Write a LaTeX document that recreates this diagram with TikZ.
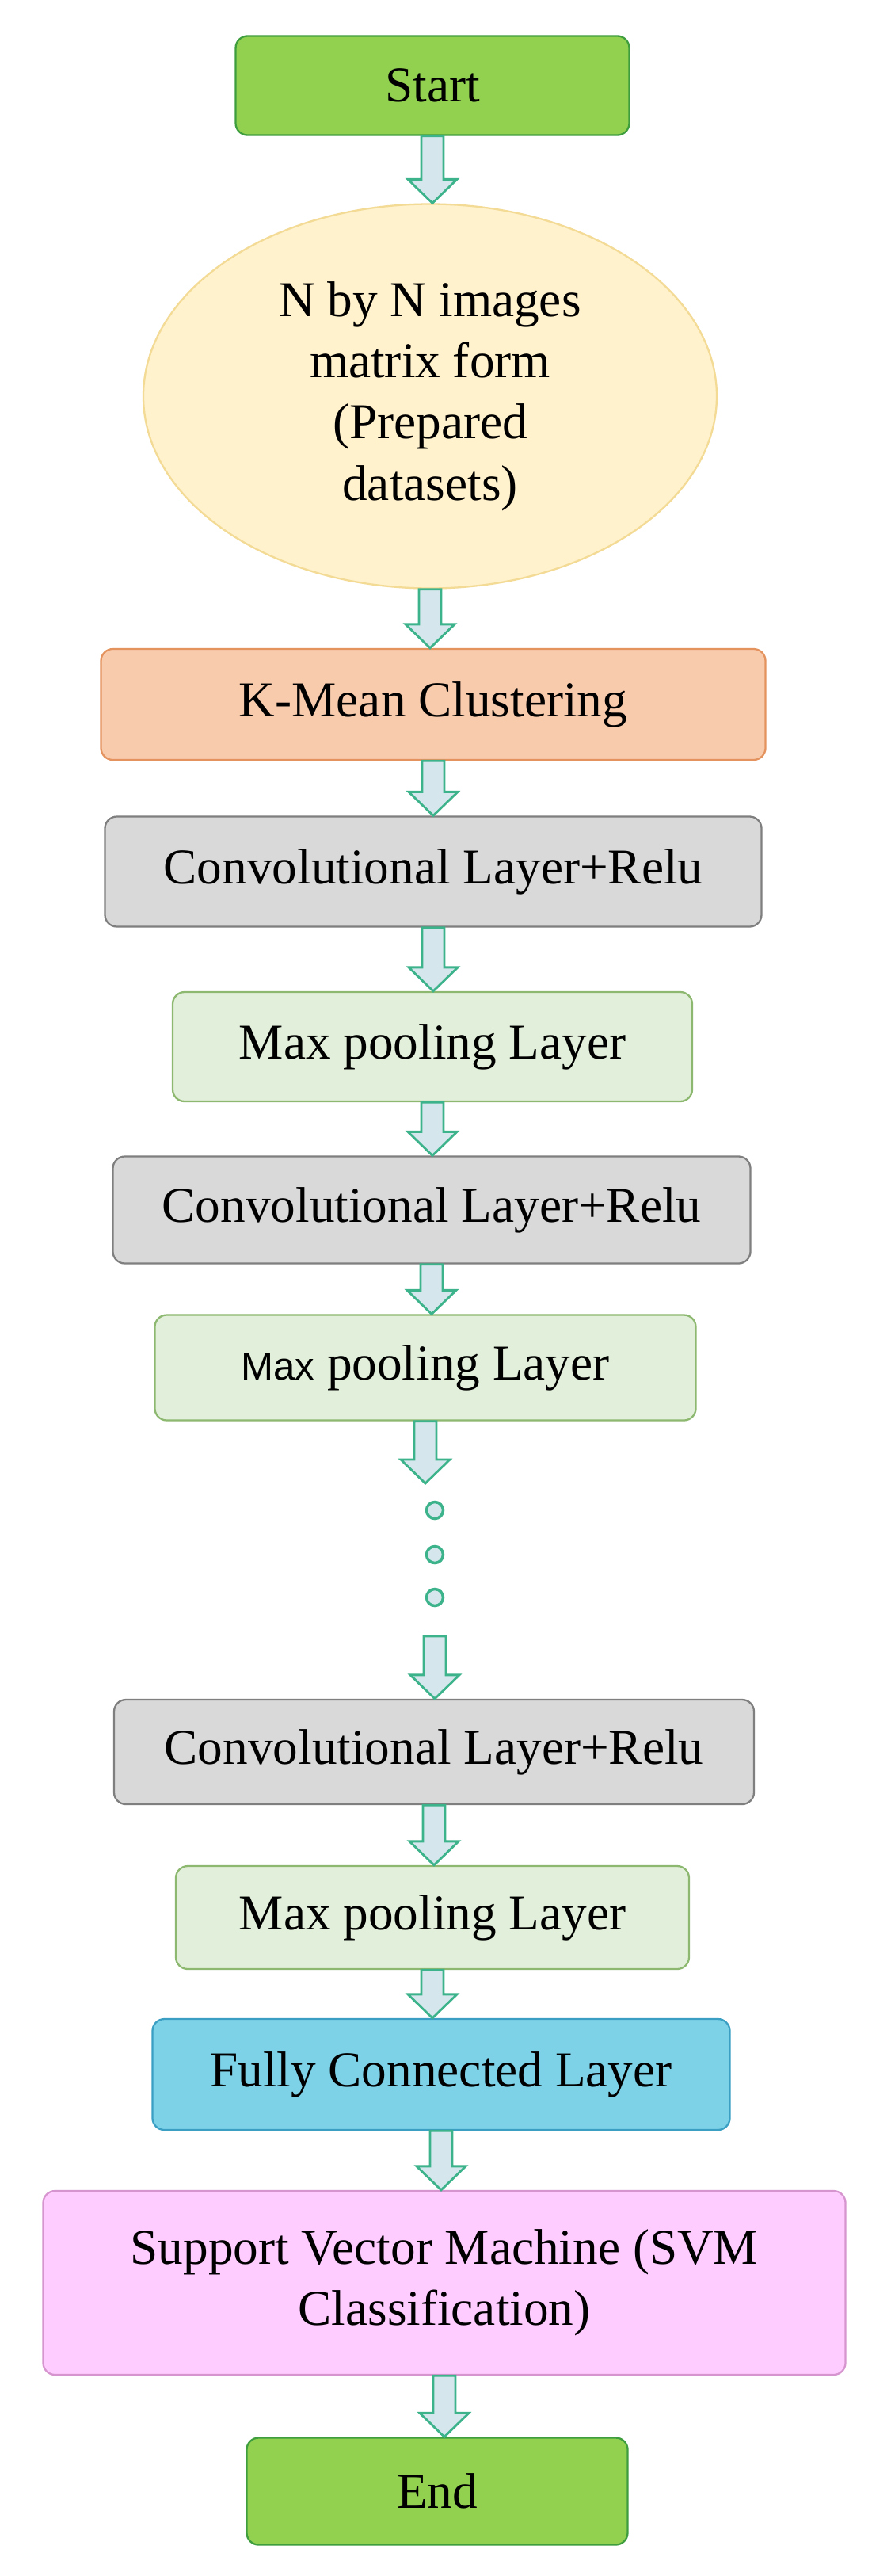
\documentclass[tikz,border=0pt]{standalone}
\usepackage{fontspec}
\setmainfont{Liberation Serif}
\setsansfont{Liberation Sans}
\usetikzlibrary{shapes.geometric,calc}
\definecolor{startF}{HTML}{92D050}\definecolor{startD}{HTML}{3E9E3E}
\definecolor{ellF}{HTML}{FFF2CC}\definecolor{ellD}{HTML}{F3DA95}
\definecolor{kmF}{HTML}{F8CBAD}\definecolor{kmD}{HTML}{E4935E}
\definecolor{convF}{HTML}{D9D9D9}\definecolor{convD}{HTML}{7F7F7F}
\definecolor{maxF}{HTML}{E2EFDA}\definecolor{maxD}{HTML}{8DB870}
\definecolor{fcF}{HTML}{7DD2E8}\definecolor{fcD}{HTML}{3A9FC2}
\definecolor{svmF}{HTML}{FFCCFF}\definecolor{svmD}{HTML}{D795CF}
\definecolor{arrF}{HTML}{D5E6EC}\definecolor{arrD}{HTML}{3DB38C}
\tikzset{
 box/.style={rectangle,rounded corners=0.3cm,line width=1.3pt,inner sep=0pt,align=center,
   font=\fontsize{36}{44}\selectfont},
 startend/.style={box,fill=startF,draw=startD},
 kmean/.style={box,fill=kmF,draw=kmD},
 conv/.style={box,fill=convF,draw=convD},
 maxp/.style={box,fill=maxF,draw=maxD},
 fc/.style={box,fill=fcF,draw=fcD},
 svm/.style={box,fill=svmF,draw=svmD},
 ell/.style={ellipse,fill=ellF,draw=ellD,line width=1.3pt,inner sep=0pt,align=center,
   font=\fontsize{36}{44}\selectfont},
 dot/.style={circle,draw=arrD,line width=2pt,fill=arrF,minimum size=0.42cm,inner sep=0pt},
 blk/.style={fill=arrF,draw=arrD,line width=1.6pt,line join=miter}
}
\newcommand\blockarr[2]{%
 \path let \p1=(#1), \p2=(#2) in
  [blk] (\x1-0.28cm,\y1) -- (\x1+0.28cm,\y1) -- (\x1+0.28cm,\y2+0.6cm) -- (\x1+0.62cm,\y2+0.6cm)
  -- (\x1,\y2) -- (\x1-0.62cm,\y2+0.6cm) -- (\x1-0.28cm,\y2+0.6cm) -- cycle;}
\begin{document}
\begin{tikzpicture}
\useasboundingbox[fill=white] (0,0) rectangle (22.02,-65.02);
\node[startend,minimum width=9.94cm,minimum height=2.5cm] (start) at (10.92,-2.16) {Start};
\node[ell,minimum width=14.48cm,minimum height=9.7cm] (data) at (10.86,-10.0) {N by N images\\matrix form\\(Prepared\\datasets)};
\node[kmean,minimum width=16.78cm,minimum height=2.8cm] (km) at (10.94,-17.78) {K-Mean Clustering};
\node[conv,minimum width=16.58cm,minimum height=2.78cm] (c1) at (10.94,-22.0) {Convolutional Layer+Relu};
\node[maxp,minimum width=13.12cm,minimum height=2.76cm] (m1) at (10.92,-26.42) {Max pooling Layer};
\node[conv,minimum width=16.1cm,minimum height=2.7cm] (c2) at (10.9,-30.54) {Convolutional Layer+Relu};
\node[maxp,minimum width=13.66cm,minimum height=2.66cm] (m2) at (10.74,-34.52) {{\sffamily\fontsize{28}{34}\selectfont Max} pooling Layer};
\coordinate (g1) at (10.98,-37.44);
\node[dot] (d1) at (10.98,-38.12) {};
\node[dot] (d2) at (10.98,-39.24) {};
\node[dot] (d3) at (10.98,-40.32) {};
\coordinate (g2) at (10.98,-41.3);
\node[conv,minimum width=16.16cm,minimum height=2.64cm] (c3) at (10.96,-44.22) {Convolutional Layer+Relu};
\node[maxp,minimum width=12.96cm,minimum height=2.6cm] (m3) at (10.92,-48.4) {Max pooling Layer};
\node[fc,minimum width=14.58cm,minimum height=2.8cm] (fc) at (11.14,-52.36) {Fully Connected Layer};
\node[svm,minimum width=20.26cm,minimum height=4.64cm] (svm) at (11.22,-57.62) {Support Vector Machine (SVM\\Classification)};
\node[startend,minimum width=9.62cm,minimum height=2.7cm] (end) at (11.04,-62.88) {End};
\blockarr{start.south}{data.north}
\blockarr{data.south}{km.north}
\blockarr{km.south}{c1.north}
\blockarr{c1.south}{m1.north}
\blockarr{m1.south}{c2.north}
\blockarr{c2.south}{m2.north}
\blockarr{m2.south}{g1}
\blockarr{g2}{c3.north}
\blockarr{c3.south}{m3.north}
\blockarr{m3.south}{fc.north}
\blockarr{fc.south}{svm.north}
\blockarr{svm.south}{end.north}
\end{tikzpicture}
\end{document}
